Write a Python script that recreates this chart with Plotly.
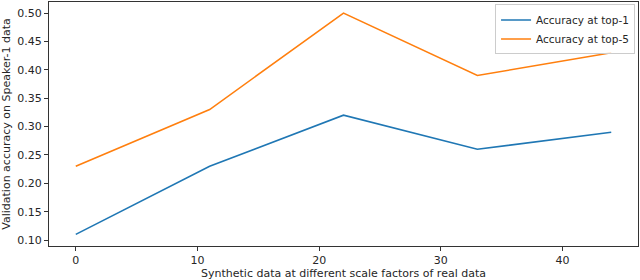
import plotly.graph_objects as go

scale_factors = [0, 11, 22, 33, 44]
top1 = [0.11, 0.23, 0.32, 0.26, 0.29]
top5 = [0.23, 0.33, 0.50, 0.39, 0.43]
x_ticks = [0, 10, 20, 30, 40]
y_ticks = [0.10, 0.15, 0.20, 0.25, 0.30, 0.35, 0.40, 0.45, 0.50]

font = dict(family="DejaVu Sans", size=11, color="#262626")

fig = go.Figure()
fig.add_trace(go.Scatter(x=scale_factors, y=top1, mode="lines", name="Accuracy at top-1",
                         line=dict(color="#1f77b4", width=1.6)))
fig.add_trace(go.Scatter(x=scale_factors, y=top5, mode="lines", name="Accuracy at top-5",
                         line=dict(color="#ff7f0e", width=1.6)))

axis_common = dict(showgrid=False, zeroline=False, showline=True, linecolor="#333333",
                   linewidth=1, mirror=True, ticks="outside", ticklen=4, tickcolor="#333333",
                   tickfont=font, automargin=False)
fig.update_xaxes(range=[-2.2, 46.2], tickvals=x_ticks,
                 title=dict(text="Synthetic data at different scale factors of real data",
                            font=font, standoff=4), **axis_common)
fig.update_yaxes(range=[0.0895, 0.5195], tickvals=y_ticks, tickformat=".2f",
                 title=dict(text="Validation accuracy on Speaker-1 data", font=font, standoff=4),
                 **axis_common)
fig.update_layout(
    width=640, height=280,
    margin=dict(l=49, r=2, t=2, b=34),
    plot_bgcolor="white", paper_bgcolor="white",
    font=font,
    legend=dict(x=0.995, y=0.99, xanchor="right", yanchor="top",
                bgcolor="rgba(255,255,255,0.8)", bordercolor="#cccccc", borderwidth=1,
                font=dict(family="DejaVu Sans", size=10.5, color="#262626"),
                tracegroupgap=0, itemwidth=30),
    showlegend=True,
)
fig.write_html("out.html", config={"displayModeBar": False},
               post_script="document.body.style.margin='0';document.body.style.overflow='hidden';")
